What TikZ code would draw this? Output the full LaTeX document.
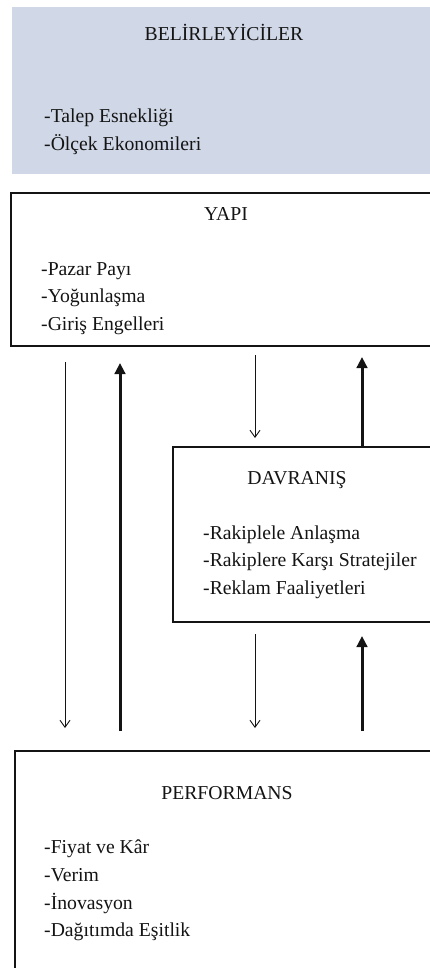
\documentclass[tikz,border=0pt]{standalone}
\usepackage{fontspec}
\setmainfont{Liberation Serif}
\usetikzlibrary{arrows.meta}
\definecolor{beltfill}{RGB}{208,215,230}
\definecolor{inkc}{RGB}{20,20,20}
\begin{document}
\begin{tikzpicture}[x=1pt,y=-1pt,
  box/.style={draw=inkc, line width=2.2pt, inner sep=0pt, anchor=north west},
  graybox/.style={fill=beltfill, draw=none, inner sep=0pt, anchor=north west},
  txt/.style={anchor=base west, inner sep=0pt, text=inkc, font=\fontsize{19.7}{24}\selectfont},
  ttl/.style={anchor=base, inner sep=0pt, text=inkc, font=\fontsize{19.7}{24}\selectfont},
  thinarr/.style={draw=inkc, line width=0.9pt, -{Straight Barb[length=7pt,width=10pt,line width=0.9pt]}},
  thickarr/.style={draw=inkc, line width=3pt, -{Triangle[length=11pt,width=10.5pt]}}]
\useasboundingbox (0,0) rectangle (430,968);
\clip (0,0) rectangle (430,968);
\fill[white] (0,0) rectangle (430,968);
% boxes
\node[graybox, minimum width=425pt, minimum height=167pt] (bel) at (12,7) {};
\node[box, minimum width=425pt, minimum height=153pt] (yapi) at (10,192) {};
\node[box, minimum width=265pt, minimum height=175pt] (dav) at (172,446) {};
\node[box, minimum width=425pt, minimum height=230pt] (perf) at (14,750) {};
% texts
\node[ttl] (belt) at (224,41) {BELİRLEYİCİLER};
\node[txt] (bel1) at (44,123) {-Talep Esnekliği};
\node[txt] (bel2) at (44,151) {-Ölçek Ekonomileri};
\node[ttl] (yapit) at (226,221) {YAPI};
\node[txt] (yapi1) at (41,275) {-Pazar Payı};
\node[txt] (yapi2) at (41,302) {-Yoğunlaşma};
\node[txt] (yapi3) at (41,330) {-Giriş Engelleri};
\node[ttl] (davt) at (297,484) {DAVRANIŞ};
\node[txt] (dav1) at (203,539) {-Rakiplele Anlaşma};
\node[txt] (dav2) at (203,566) {-Rakiplere Karşı Stratejiler};
\node[txt] (dav3) at (203,594) {-Reklam Faaliyetleri};
\node[ttl] (perft) at (227,799) {PERFORMANS};
\node[txt] (perf1) at (44,853) {-Fiyat ve Kâr};
\node[txt] (perf2) at (44,881) {-Verim};
\node[txt] (perf3) at (44,909) {-İnovasyon};
\node[txt] (perf4) at (44,936) {-Dağıtımda Eşitlik};
% connector ends
\coordinate (a1s) at (65,362);  \coordinate (a1e) at (65,728);
\coordinate (a2s) at (120,731); \coordinate (a2e) at (120,363);
\coordinate (a3s) at (255,355); \coordinate (a3e) at (255,438);
\coordinate (a4s) at (362,446); \coordinate (a4e) at (362,357);
\coordinate (a5s) at (255,634); \coordinate (a5e) at (255,728);
\coordinate (a6s) at (362,731); \coordinate (a6e) at (362,636);
\draw[thinarr] (a1s) -- (a1e);
\draw[thickarr] (a2s) -- (a2e);
\draw[thinarr] (a3s) -- (a3e);
\draw[thickarr] (a4s) -- (a4e);
\draw[thinarr] (a5s) -- (a5e);
\draw[thickarr] (a6s) -- (a6e);
\end{tikzpicture}
\end{document}
